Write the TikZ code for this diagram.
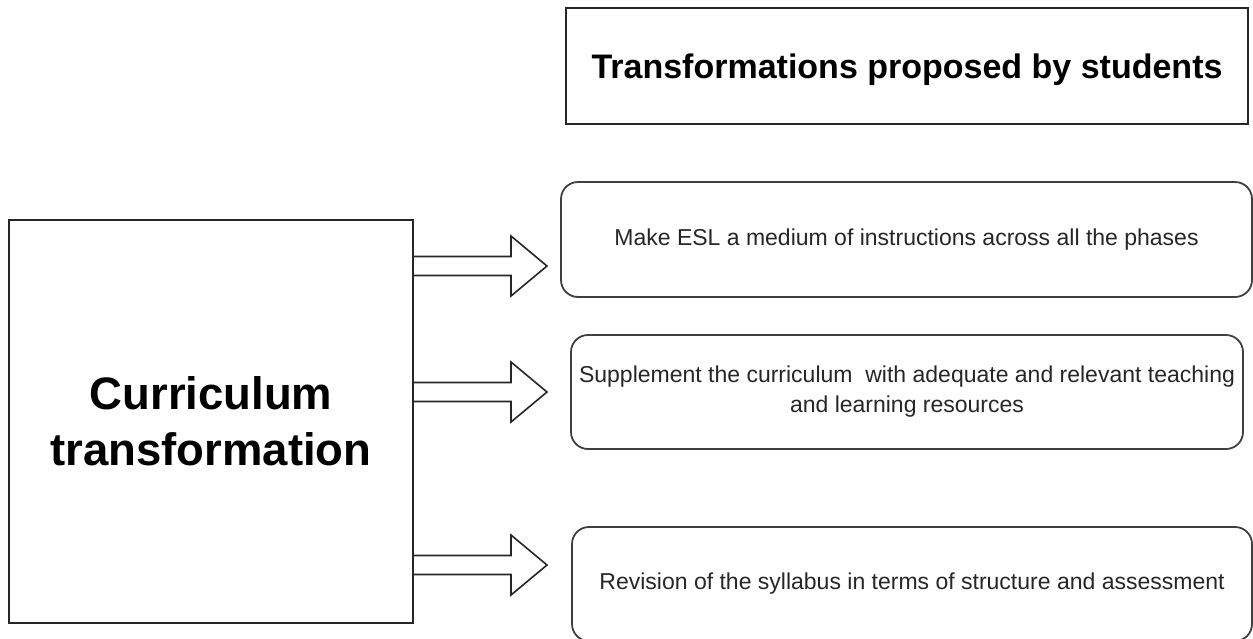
\documentclass[tikz,border=0pt]{standalone}
\usepackage{fontspec}
\setmainfont{Liberation Sans}
\begin{document}
\begin{tikzpicture}[x=1pt,y=-1pt,
  plainbox/.style={draw=black!85, line width=1.8pt, rectangle, inner sep=0pt, align=center},
  roundbox/.style={draw=black!75, line width=1.8pt, rectangle, rounded corners=17pt, inner sep=0pt, align=center,
    text=black!85, font=\fontsize{23}{30}\selectfont},
  blockarrow/.pic={\draw[line width=1.6pt, draw=black!85, fill=white, line join=miter]
    (0,-9.5) -- (97,-9.5) -- (97,-30) -- (133,0) -- (97,30) -- (97,9.5) -- (0,9.5);}
]
\useasboundingbox (0,0) rectangle (1253,638);
\clip (0,0) rectangle (1253,638);

% heading
\node[plainbox, minimum width=682pt, minimum height=116pt, text depth=0pt,
      font=\fontsize{34}{40}\selectfont\bfseries] (title) at (907,66)
  {Transformations proposed by students};

% main topic
\node[plainbox, line width=2pt, minimum width=404pt, minimum height=403pt,
      font=\fontsize{45.5}{56}\selectfont\bfseries] (topic) at (211,421.5)
  {Curriculum\\transformation};

% proposed transformations
\node[roundbox, minimum width=691pt, minimum height=115pt] (p1) at (906.5,239.5)
  {Make ESL a medium of instructions across all the phases};
\node[roundbox, minimum width=672pt, minimum height=114pt] (p2) at (907,392)
  {Supplement the curriculum~ with adequate and relevant teaching\\and learning resources};
\node[roundbox, minimum width=680pt, minimum height=114pt] (p3) at (912,584)
  {Revision of the syllabus in terms of structure and assessment};

% block arrows from the topic towards each proposal
\coordinate (a1) at (topic.east |- 0,266);
\coordinate (a2) at (topic.east |- 0,392);
\coordinate (a3) at (topic.east |- 0,565);
\pic at (a1) {blockarrow};
\pic at (a2) {blockarrow};
\pic at (a3) {blockarrow};
\end{tikzpicture}
\end{document}
